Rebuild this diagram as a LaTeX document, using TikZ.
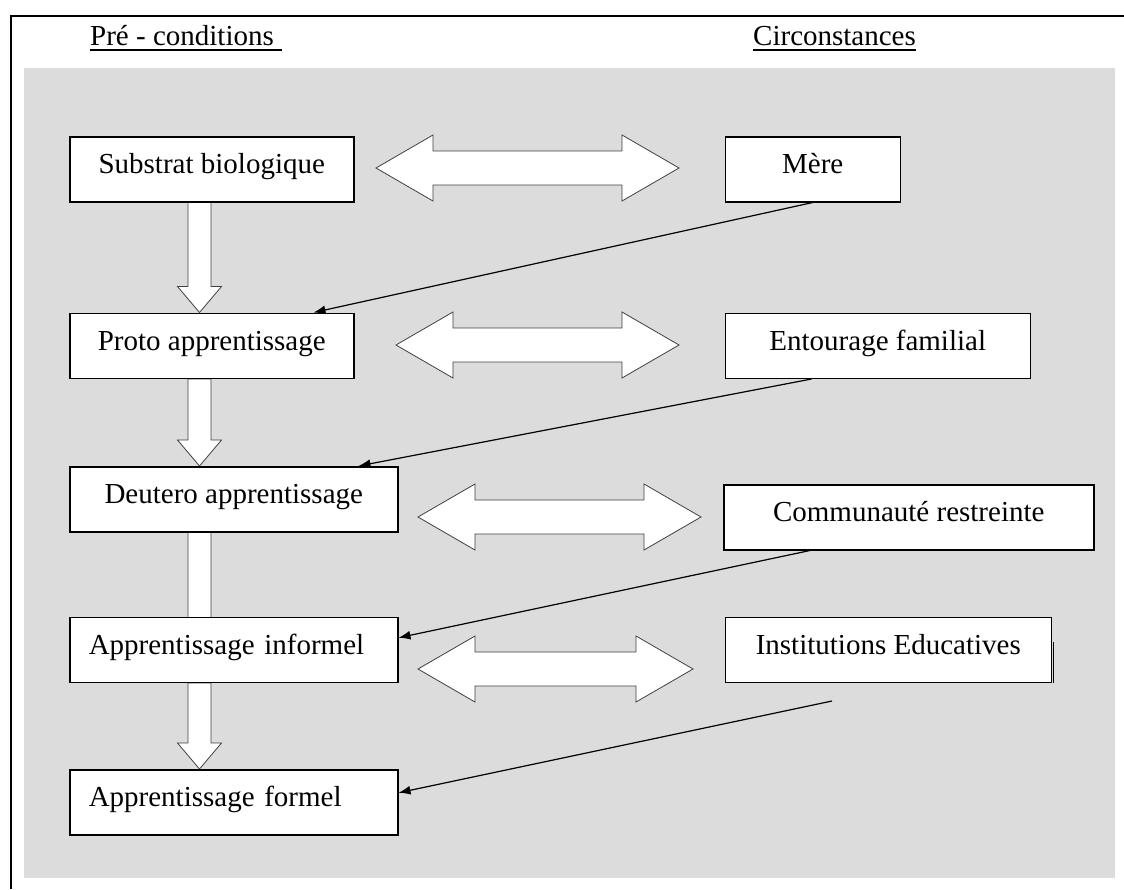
\documentclass[tikz,border=0pt]{standalone}
\usepackage{fontspec}
\setmainfont{Liberation Serif}
\usetikzlibrary{positioning,calc,arrows.meta}

\definecolor{bggray}{RGB}{220,220,220}

\pgfdeclarelayer{back}
\pgfdeclarelayer{blocks}
\pgfsetlayers{back,blocks,main}

\tikzset{
  box/.style={draw, line width=1.5pt, fill=white, minimum height=65pt, text height=20pt, text depth=11pt, inner sep=0pt},
  lbox/.style={box, align=left, text width=290pt, inner xsep=19pt},
  blockline/.style={draw=black!75, fill=white, line width=0.8pt},
  link/.style={-{Latex[length=12pt,width=9pt]}, line width=1.2pt}
}

% wide block arrow going down from one box to the next
\newcommand{\blockdown}[3]{%
  \draw[blockline] let \p1=([xshift=130.5pt]#1.south west), \p2=([xshift=130.5pt,yshift=#3]#2.north west) in
    (\x1-11.5pt,\y1) -- (\x1+11.5pt,\y1) -- (\x1+11.5pt,\y2+26pt) -- (\x1+22pt,\y2+26pt) -- (\x2,\y2)
    -- (\x1-22pt,\y2+26pt) -- (\x1-11.5pt,\y2+26pt) -- cycle;}

% wide double arrow: left tip x, right tip x, middle y
\newcommand{\twoway}[3]{%
  \draw[blockline] (#1,#3) -- ({#1+57},{#3-33}) -- ({#1+57},{#3-17}) -- ({#2-57},{#3-17}) -- ({#2-57},{#3-33})
    -- (#2,#3) -- ({#2-57},{#3+33}) -- ({#2-57},{#3+17}) -- ({#1+57},{#3+17}) -- ({#1+57},{#3+33}) -- cycle;}

\begin{document}
\begin{tikzpicture}[x=1pt, y=-1pt, font=\fontsize{29}{35}\selectfont]
  \useasboundingbox (0,0) rectangle (1124,889);
  \begin{pgfonlayer}{back}
    \draw[line width=1.3pt] (11,889) -- (11,16) -- (1124,16);
    \fill[bggray] (24,68) rectangle (1115,878);
  \end{pgfonlayer}

  % titles
  \node[anchor=base west, inner sep=0pt] (pre) at (90,45) {Pré - conditions};
  \node[anchor=base west, inner sep=0pt] (circ) at (753,45) {Circonstances};
  \draw[line width=1.4pt] ([yshift=-5pt]pre.base west) -- ([xshift=8pt,yshift=-5pt]pre.base east);
  \draw[line width=1.4pt] ([yshift=-5pt]circ.base west) -- ([yshift=-5pt]circ.base east);

  % left column
  \node[box, minimum width=284pt, anchor=north west] (sub) at (69,136) {Substrat biologique};
  \node[box, minimum width=284pt, below=110pt of sub.south west, anchor=north west] (proto) {Proto apprentissage};
  \node[box, minimum width=328pt, below=87pt of proto.south west, anchor=north west] (deut) {Deutero apprentissage};
  \node[lbox, below=84pt of deut.south west, anchor=north west] (inf) {Apprentissage informel};
  \node[lbox, below=86pt of inf.south west, anchor=north west] (formel) {Apprentissage formel};

  % right column
  \node[box, minimum width=175pt, right=370pt of sub.north east, anchor=north west] (mere) {Mère};
  \node[box, minimum width=305pt, right=370pt of proto.north east, anchor=north west] (ent) {Entourage familial};
  \node[box, minimum width=370pt, anchor=north west] (comm) at (723,484) {Communauté restreinte};
  \node[box, minimum width=326pt, right=326pt of inf.north east, anchor=north west] (inst) {Institutions Educatives};
  \draw[line width=1.5pt] ([xshift=1.5pt,yshift=8pt]inst.east) -- ([xshift=1.5pt]inst.south east);

  \begin{pgfonlayer}{blocks}
    \blockdown{sub}{proto}{0pt}
    \blockdown{proto}{deut}{0pt}
    \blockdown{deut}{inf}{-27pt}
    \blockdown{inf}{formel}{0pt}
    \twoway{376}{679}{168}
    \twoway{396}{679}{345}
    \twoway{418}{701}{517}
    \twoway{418}{693}{669}
  \end{pgfonlayer}

  \draw[link] (mere.south) -- ([xshift=-41pt]proto.north east);
  \draw[link] ([xshift=87pt]ent.south west) -- ([xshift=-40pt]deut.north east);
  \draw[link] ([xshift=87pt]comm.south west) -- ([yshift=12pt]inf.east);
  \coordinate (free) at (832,701);
  \draw[link] (free) -- ([yshift=9.5pt]formel.east);
\end{tikzpicture}
\end{document}
